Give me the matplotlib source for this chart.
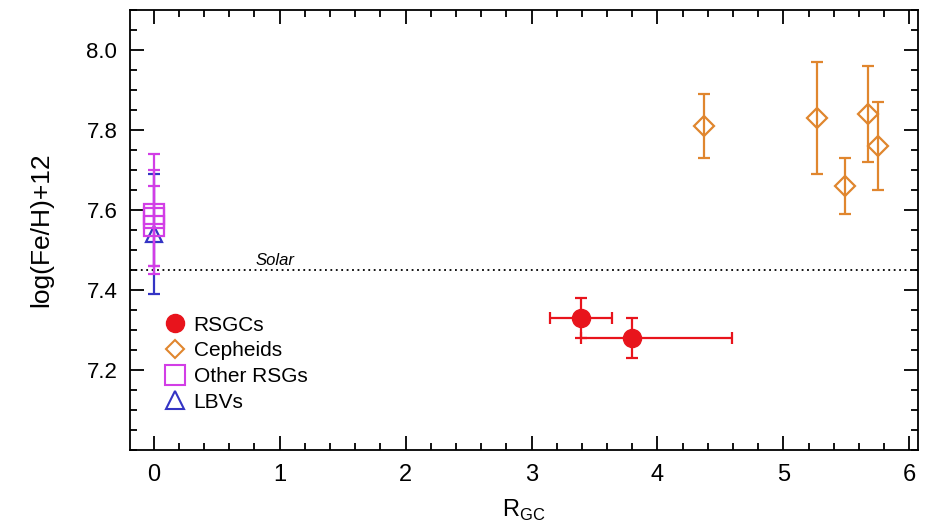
import matplotlib
matplotlib.use('Agg')

import numpy as np
import matplotlib.pyplot as plt
from matplotlib.lines import Line2D
from matplotlib.ticker import MultipleLocator

plt.rcParams['font.family'] = ['Liberation Sans', 'DejaVu Sans']

# cluster red supergiants
rsgc_r = [3.39, 3.80]
rsgc_fe = [7.33, 7.28]
rsgc_rerr_lo = [0.24, 0.41]
rsgc_rerr_hi = [0.25, 0.79]
rsgc_feerr = [0.05, 0.05]

# cepheids
ceph_r = [4.37, 5.27, 5.49, 5.67, 5.75]
ceph_fe = [7.81, 7.83, 7.66, 7.84, 7.76]
ceph_feerr = [0.08, 0.14, 0.07, 0.12, 0.11]

# other red supergiants at the Galactic centre
orsg_r = [0.0, 0.0, 0.0]
orsg_fe = [7.59, 7.58, 7.56]
orsg_feerr = [0.15, 0.12, 0.10]

# luminous blue variables
lbv_r = [0.0]
lbv_fe = [7.54]
lbv_feerr = [0.15]

solar_fe = 7.45

c_rsgc = '#e8141c'
c_ceph = '#e0862e'
c_orsg = '#d23ee6'
c_lbv = '#3434c4'

fig = plt.figure(figsize=(9.34, 5.26), dpi=100)
ax = fig.add_axes([0.139, 0.145, 0.844, 0.836])

ax.axhline(solar_fe, color='black', ls=(0, (1, 2)), lw=1.3, zorder=1)
ax.text(0.81, solar_fe + 0.004, 'Solar', style='italic', fontsize=12, va='bottom', ha='left')

ax.errorbar(orsg_r, orsg_fe, yerr=orsg_feerr, fmt='s', ms=14, mfc='none', mec=c_orsg,
            mew=1.6, ecolor=c_orsg, elinewidth=1.6, capsize=4, capthick=1.6, zorder=3)
ax.errorbar(lbv_r, lbv_fe, yerr=lbv_feerr, fmt='^', ms=12, mfc='none', mec=c_lbv,
            mew=1.6, ecolor=c_lbv, elinewidth=1.6, capsize=4, capthick=1.6, zorder=2)
ax.errorbar(ceph_r, ceph_fe, yerr=ceph_feerr, fmt='D', ms=10, mfc='none', mec=c_ceph,
            mew=1.6, ecolor=c_ceph, elinewidth=1.6, capsize=4, capthick=1.6, zorder=3)
ax.errorbar(rsgc_r, rsgc_fe, xerr=[rsgc_rerr_lo, rsgc_rerr_hi], yerr=rsgc_feerr, fmt='o',
            ms=13, mfc=c_rsgc, mec=c_rsgc, ecolor=c_rsgc, elinewidth=1.6, capsize=4,
            capthick=1.6, zorder=3)

ax.set_xlim(-0.19, 6.07)
ax.set_ylim(7.0, 8.1)
ax.xaxis.set_major_locator(MultipleLocator(1))
ax.xaxis.set_minor_locator(MultipleLocator(0.2))
ax.yaxis.set_minor_locator(MultipleLocator(0.05))
ax.set_yticks([7.2, 7.4, 7.6, 7.8, 8.0])
ax.tick_params(which='both', direction='in', top=True, right=True, width=1.3)
ax.tick_params(which='major', length=10)
ax.tick_params(which='minor', length=5)
ax.tick_params(axis='y', which='major', labelsize=16, pad=9)
ax.tick_params(axis='x', which='major', labelsize=17, pad=10)
for s in ax.spines.values():
    s.set_linewidth(1.3)

ax.set_xlabel(r'R$_{\mathregular{GC}}$', fontsize=17, labelpad=9)
ax.set_ylabel('log(Fe/H)+12', fontsize=19, labelpad=24)

handles = [
    Line2D([], [], ls='none', marker='o', ms=13, mfc=c_rsgc, mec=c_rsgc),
    Line2D([], [], ls='none', marker='D', ms=9, mfc='none', mec=c_ceph, mew=1.5),
    Line2D([], [], ls='none', marker='s', ms=14, mfc='none', mec=c_orsg, mew=1.5),
    Line2D([], [], ls='none', marker='^', ms=13, mfc='none', mec=c_lbv, mew=1.5),
]
labels = ['RSGCs', 'Cepheids', 'Other RSGs', 'LBVs']
ax.legend(handles, labels, loc='upper left', bbox_to_anchor=(0.044, 0.305), frameon=False,
          fontsize=15, handlelength=1.0, handletextpad=0.4, labelspacing=0.32,
          borderaxespad=0.0, borderpad=0.0)

fig.savefig('out.png', dpi=100)
